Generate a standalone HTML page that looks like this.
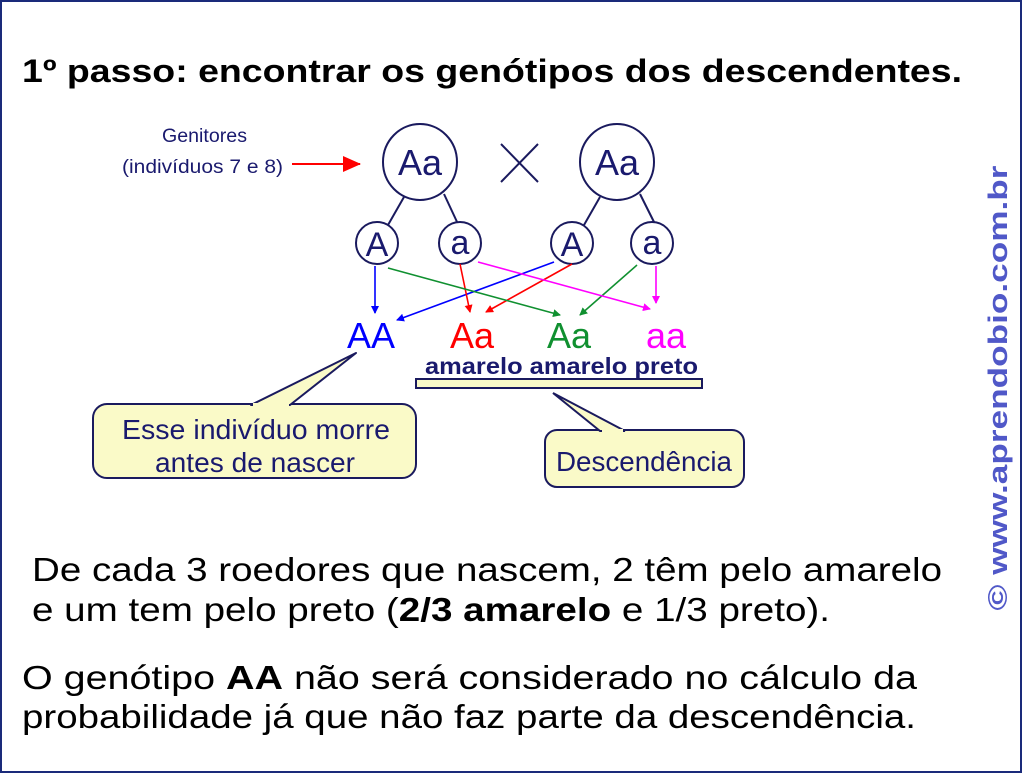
<!DOCTYPE html>
<html><head><meta charset="utf-8"><style>
html,body{margin:0;padding:0;background:#fff;}
svg{display:block;}
</style></head><body>
<svg width="1024" height="775" viewBox="0 0 1024 775" xmlns="http://www.w3.org/2000/svg" font-family="Liberation Sans, sans-serif">
<defs>
<marker id="mb" markerWidth="8" markerHeight="8" refX="7" refY="4" orient="auto" markerUnits="userSpaceOnUse"><path d="M0,0 L8,4 L0,8z" fill="#0000ff"/></marker>
<marker id="mr" markerWidth="8" markerHeight="8" refX="7" refY="4" orient="auto" markerUnits="userSpaceOnUse"><path d="M0,0 L8,4 L0,8z" fill="#ff0000"/></marker>
<marker id="mg" markerWidth="8" markerHeight="8" refX="7" refY="4" orient="auto" markerUnits="userSpaceOnUse"><path d="M0,0 L8,4 L0,8z" fill="#109030"/></marker>
<marker id="mm" markerWidth="8" markerHeight="8" refX="7" refY="4" orient="auto" markerUnits="userSpaceOnUse"><path d="M0,0 L8,4 L0,8z" fill="#ff00ff"/></marker>
<marker id="mR" markerWidth="18" markerHeight="16" refX="17" refY="8" orient="auto" markerUnits="userSpaceOnUse"><path d="M0,0 L18,8 L0,16z" fill="#ff0000"/></marker>
</defs>
<rect x="1" y="1" width="1020" height="771" fill="#fff" stroke="#1a2a7a" stroke-width="2"/>
<text x="22" y="82" font-size="32" font-weight="bold" fill="#000" textLength="940" lengthAdjust="spacingAndGlyphs">1º passo: encontrar os genótipos dos descendentes.</text>

<g fill="#1a1a6e" font-size="19">
<text x="162" y="142" textLength="85" lengthAdjust="spacingAndGlyphs">Genitores</text>
<text x="122" y="173" textLength="161" lengthAdjust="spacingAndGlyphs">(indivíduos 7 e 8)</text>
</g>
<line x1="292" y1="164" x2="360" y2="164" stroke="#ff0000" stroke-width="2" marker-end="url(#mR)"/>

<g stroke="#1a1a5e" stroke-width="2" fill="#fff">
<line x1="404" y1="197" x2="388" y2="225"/>
<line x1="444" y1="194" x2="458" y2="224"/>
<line x1="600" y1="197" x2="584" y2="225"/>
<line x1="640" y1="194" x2="655" y2="224"/>
<ellipse cx="420" cy="162" rx="37" ry="38"/>
<ellipse cx="617" cy="162" rx="37" ry="38"/>
<ellipse cx="377" cy="243" rx="21" ry="21"/>
<ellipse cx="460" cy="243" rx="21" ry="21"/>
<ellipse cx="572" cy="243" rx="21" ry="21"/>
<ellipse cx="652" cy="243" rx="21" ry="21"/>
<line x1="501" y1="144" x2="538" y2="182"/>
<line x1="538" y1="144" x2="501" y2="182"/>
</g>
<g fill="#1a1a6e" text-anchor="middle">
<text x="420" y="175" font-size="36">Aa</text>
<text x="617" y="175" font-size="36">Aa</text>
<text x="377" y="256" font-size="34">A</text>
<text x="460" y="254" font-size="34">a</text>
<text x="572" y="256" font-size="34">A</text>
<text x="652" y="254" font-size="34">a</text>
</g>

<g stroke-width="1.6" fill="none">
<line x1="375" y1="266" x2="375" y2="313" stroke="#0000ff" marker-end="url(#mb)"/>
<line x1="554" y1="262" x2="397" y2="320" stroke="#0000ff" marker-end="url(#mb)"/>
<line x1="460" y1="264" x2="470" y2="312" stroke="#ff0000" marker-end="url(#mr)"/>
<line x1="572" y1="264" x2="486" y2="312" stroke="#ff0000" marker-end="url(#mr)"/>
<line x1="388" y1="268" x2="560" y2="315" stroke="#109030" marker-end="url(#mg)"/>
<line x1="637" y1="265" x2="580" y2="315" stroke="#109030" marker-end="url(#mg)"/>
<line x1="478" y1="262" x2="650" y2="309" stroke="#ff00ff" marker-end="url(#mm)"/>
<line x1="656" y1="266" x2="656" y2="303" stroke="#ff00ff" marker-end="url(#mm)"/>
</g>
<g font-size="36" text-anchor="middle">
<text x="371" y="348" fill="#0000ff">AA</text>
<text x="472" y="348" fill="#ff0000">Aa</text>
<text x="569" y="348" fill="#109030">Aa</text>
<text x="666" y="348" fill="#ff00ff">aa</text>
</g>
<text x="425" y="374" font-size="23" font-weight="bold" fill="#1a1a6e" textLength="273" lengthAdjust="spacingAndGlyphs">amarelo amarelo  preto</text>
<rect x="416" y="379" width="286" height="9" fill="#fafac8" stroke="#1a1a5e" stroke-width="2"/>

<g fill="#fafac8" stroke="#1a1a5e" stroke-width="2">
<rect x="93" y="404" width="323" height="74" rx="14"/>
<polygon points="251,405 356,353 290,405" stroke-linejoin="round"/>
<rect x="545" y="430" width="199" height="57" rx="12"/>
<polygon points="600,431 553,393 625,431"/>
</g>
<g fill="#fafac8"><rect x="253" y="403" width="36" height="4"/><rect x="602" y="429" width="21" height="4"/></g>
<g fill="#1a1a6e" font-size="28">
<text x="122" y="439" textLength="268" lengthAdjust="spacingAndGlyphs">Esse indivíduo morre</text>
<text x="155" y="472" textLength="200" lengthAdjust="spacingAndGlyphs">antes de nascer</text>
<text x="556" y="471" textLength="176" lengthAdjust="spacingAndGlyphs">Descendência</text>
</g>

<text transform="translate(1007,388) rotate(-90)" font-size="27" font-weight="bold" fill="#5058c8" text-anchor="middle" textLength="445" lengthAdjust="spacingAndGlyphs">© www.aprendobio.com.br</text>

<g font-size="33" fill="#000">
<text x="32" y="581" textLength="910" lengthAdjust="spacingAndGlyphs">De cada 3 roedores que nascem, 2 têm pelo amarelo</text>
<text x="32" y="621" textLength="798" lengthAdjust="spacingAndGlyphs">e um tem pelo preto (<tspan font-weight="bold">2/3 amarelo</tspan> e 1/3 preto).</text>
<text x="22" y="689" textLength="895" lengthAdjust="spacingAndGlyphs">O genótipo <tspan font-weight="bold">AA</tspan> não será considerado no cálculo da</text>
<text x="22" y="728" textLength="894" lengthAdjust="spacingAndGlyphs">probabilidade já que não faz parte da descendência.</text>
</g>
</svg>
</body></html>
